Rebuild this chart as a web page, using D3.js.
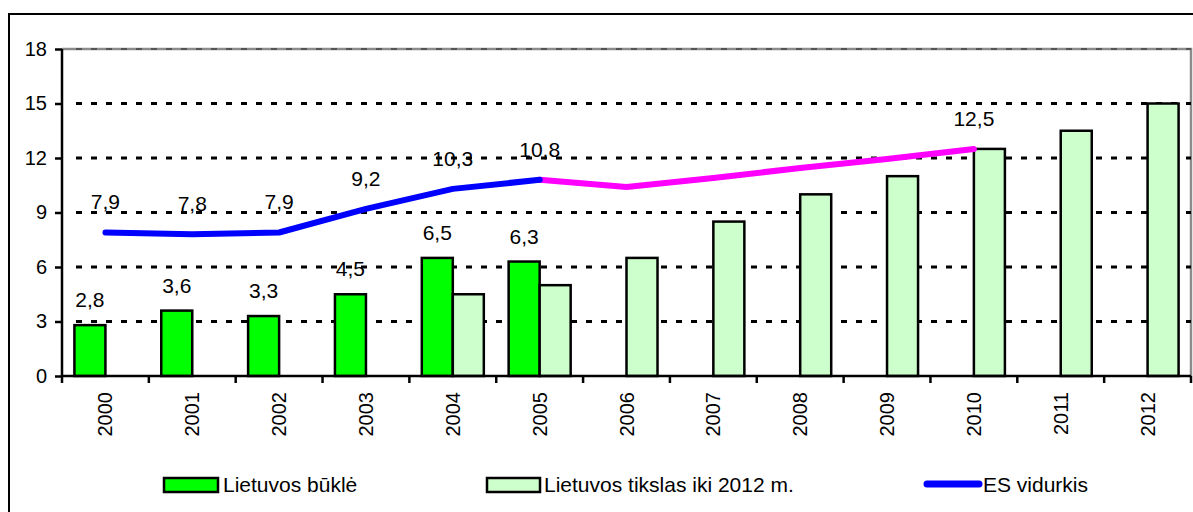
<!DOCTYPE html>
<html>
<head>
<meta charset="utf-8">
<script src="https://cdn.jsdelivr.net/npm/d3@7"></script>
<style>
  body { margin: 0; background: #fff; }
  text { font-family: "Liberation Sans", Arial, sans-serif; fill: #000; }
</style>
</head>
<body>
<svg id="chart" width="1193" height="512"></svg>
<script>
const years = ["2000","2001","2002","2003","2004","2005","2006","2007","2008","2009","2010","2011","2012"];
const statusValues = [2.8, 3.6, 3.3, 4.5, 6.5, 6.3, null, null, null, null, null, null, null];
const targetValues = [null, null, null, null, 4.5, 5.0, 6.5, 8.5, 10, 11, 12.5, 13.5, 15];
const euValues = [7.9, 7.8, 7.9, 9.2, 10.3, 10.8, null, null, null, null, null, null, null];
const euForecast = [null, null, null, null, null, 10.8, 10.4, 10.9, 11.45, 11.95, 12.5, null, null];
const yTicks = [0, 3, 6, 9, 12, 15, 18];
const seriesNames = ["Lietuvos būklė", "Lietuvos tikslas iki 2012 m.", "ES vidurkis"];

const svg = d3.select("#chart");

// plot area
const plot = { left: 62, right: 1191, top: 49, bottom: 376 };

// outer frame (runs off the picture on the right and bottom)
svg.append("rect")
  .attr("x", 9).attr("y", 14)
  .attr("width", 1200).attr("height", 520)
  .attr("fill", "none")
  .attr("stroke", "#000")
  .attr("stroke-width", 2);

const x = d3.scaleBand()
  .domain(years)
  .range([plot.left, plot.right])
  .paddingInner(0)
  .paddingOuter(0);

const xSub = d3.scaleBand()
  .domain(["status", "target"])
  .range([0, x.bandwidth()])
  .paddingInner(0)
  .paddingOuter(0.4);

const y = d3.scaleLinear()
  .domain([0, 18])
  .range([plot.bottom, plot.top]);

// plot border (gray, top and right)
svg.append("path")
  .attr("d", `M${plot.left},${plot.top}H${plot.right}V${plot.bottom}`)
  .attr("fill", "none")
  .attr("stroke", "#8c8c8c")
  .attr("stroke-width", 2.5);

// gridlines
svg.append("g")
  .selectAll("line")
  .data(yTicks.filter(d => d > 0))
  .join("line")
  .attr("x1", plot.left + 14)
  .attr("x2", plot.right)
  .attr("y1", d => y(d))
  .attr("y2", d => y(d))
  .attr("stroke", d => d === 18 ? "#555" : "#000")
  .attr("stroke-width", d => d === 18 ? 2 : 3)
  .attr("stroke-dasharray", "6,9");

// bars
const bars = svg.append("g");
bars.selectAll("rect.status")
  .data(years.map((yr, i) => ({ yr, v: statusValues[i] })).filter(d => d.v != null))
  .join("rect")
  .attr("class", "status")
  .attr("x", d => x(d.yr) + xSub("status"))
  .attr("y", d => y(d.v))
  .attr("width", xSub.bandwidth())
  .attr("height", d => y(0) - y(d.v))
  .attr("fill", "#00ff00")
  .attr("stroke", "#000")
  .attr("stroke-width", 2.5);

bars.selectAll("rect.target")
  .data(years.map((yr, i) => ({ yr, v: targetValues[i] })).filter(d => d.v != null))
  .join("rect")
  .attr("class", "target")
  .attr("x", d => x(d.yr) + xSub("target"))
  .attr("y", d => y(d.v))
  .attr("width", xSub.bandwidth())
  .attr("height", d => y(0) - y(d.v))
  .attr("fill", "#ccffcc")
  .attr("stroke", "#000")
  .attr("stroke-width", 2.5);

// lines
const cx = yr => x(yr) + x.bandwidth() / 2;
const line = d3.line()
  .defined(d => d.v != null)
  .x(d => cx(d.yr))
  .y(d => y(d.v));

svg.append("path")
  .datum(years.map((yr, i) => ({ yr, v: euForecast[i] })))
  .attr("d", line)
  .attr("fill", "none")
  .attr("stroke", "#ff00ff")
  .attr("stroke-width", 6)
  .attr("stroke-linecap", "round")
  .attr("stroke-linejoin", "round");

svg.append("path")
  .datum(years.map((yr, i) => ({ yr, v: euValues[i] })))
  .attr("d", line)
  .attr("fill", "none")
  .attr("stroke", "#0000ff")
  .attr("stroke-width", 6)
  .attr("stroke-linecap", "round")
  .attr("stroke-linejoin", "round");

const fmt = v => String(v).replace(".", ",");

// labels on status bars
svg.append("g")
  .selectAll("text")
  .data(years.map((yr, i) => ({ yr, v: statusValues[i] })).filter(d => d.v != null))
  .join("text")
  .attr("x", d => x(d.yr) + xSub("status") + xSub.bandwidth() / 2)
  .attr("y", d => y(d.v) - 18)
  .attr("text-anchor", "middle")
  .style("font-size", "21px")
  .text(d => fmt(d.v));

// labels on the EU line (and last forecast point)
const lineLabels = years.map((yr, i) => ({ yr, v: euValues[i] })).filter(d => d.v != null)
  .concat([{ yr: "2010", v: euForecast[years.indexOf("2010")] }]);
svg.append("g")
  .selectAll("text")
  .data(lineLabels)
  .join("text")
  .attr("x", d => cx(d.yr))
  .attr("y", d => y(d.v) - 23)
  .attr("text-anchor", "middle")
  .style("font-size", "21px")
  .text(d => fmt(d.v));

// y axis
const yAxis = svg.append("g")
  .attr("transform", `translate(${plot.left},0)`)
  .call(d3.axisLeft(y).tickValues(yTicks).tickSize(7).tickPadding(8).tickFormat(d => d));
yAxis.select(".domain").attr("stroke", "#000").attr("stroke-width", 2.5).attr("d", `M0,${plot.top}V${plot.bottom}`);
yAxis.selectAll(".tick line").attr("stroke", "#000").attr("stroke-width", 2.5);
yAxis.selectAll(".tick text").style("font-size", "20px").style("font-family", "Liberation Sans, Arial, sans-serif");

// x axis: ticks at category boundaries
const xAxis = svg.append("g")
  .attr("transform", `translate(0,${plot.bottom})`);
xAxis.append("line")
  .attr("x1", plot.left).attr("x2", plot.right)
  .attr("stroke", "#000").attr("stroke-width", 2.5);
xAxis.selectAll("line.tick")
  .data(years.concat(["end"]))
  .join("line")
  .attr("class", "tick")
  .attr("x1", d => d === "end" ? plot.right : x(d))
  .attr("x2", d => d === "end" ? plot.right : x(d))
  .attr("y1", 0).attr("y2", 7)
  .attr("stroke", "#000").attr("stroke-width", 2.5);
xAxis.selectAll("text")
  .data(years)
  .join("text")
  .attr("transform", d => `translate(${cx(d)},16) rotate(-90)`)
  .attr("text-anchor", "end")
  .attr("dy", "0.35em")
  .style("font-size", "20px")
  .text(d => d);

// legend
const legend = svg.append("g");
const legendY = 492;
legend.append("rect")
  .attr("x", 164).attr("y", 478).attr("width", 54).attr("height", 14)
  .attr("fill", "#00ff00").attr("stroke", "#000").attr("stroke-width", 2.5);
legend.append("text")
  .attr("x", 223).attr("y", legendY)
  .style("font-size", "21px")
  .text(seriesNames[0]);
legend.append("rect")
  .attr("x", 487).attr("y", 478).attr("width", 53).attr("height", 14)
  .attr("fill", "#ccffcc").attr("stroke", "#000").attr("stroke-width", 2.5);
legend.append("text")
  .attr("x", 544).attr("y", legendY)
  .style("font-size", "21px")
  .text(seriesNames[1]);
legend.append("line")
  .attr("x1", 927).attr("x2", 979).attr("y1", 484).attr("y2", 484)
  .attr("stroke", "#0000ff").attr("stroke-width", 7).attr("stroke-linecap", "round");
legend.append("text")
  .attr("x", 983).attr("y", legendY)
  .style("font-size", "21px")
  .text(seriesNames[2]);
</script>
</body>
</html>
